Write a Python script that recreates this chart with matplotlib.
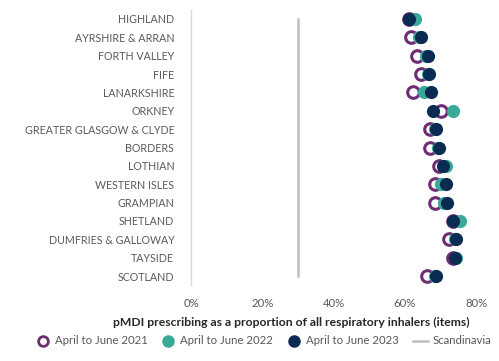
import matplotlib
matplotlib.use("Agg")
import matplotlib.pyplot as plt
from matplotlib.lines import Line2D

regions = ["HIGHLAND", "AYRSHIRE & ARRAN", "FORTH VALLEY", "FIFE", "LANARKSHIRE",
           "ORKNEY", "GREATER GLASGOW & CLYDE", "BORDERS", "LOTHIAN", "WESTERN ISLES",
           "GRAMPIAN", "SHETLAND", "DUMFRIES & GALLOWAY", "TAYSIDE", "SCOTLAND"]
y2021 = [61.0, 61.6, 63.3, 64.4, 62.2, 70.0, 67.0, 67.0, 69.6, 68.4, 68.4, 73.5, 72.4, 73.4, 66.3]
y2022 = [62.8, 64.0, 66.0, 66.5, 65.3, 73.6, 68.5, 69.3, 71.5, 70.0, 70.9, 75.4, 74.0, 74.3, 68.5]
y2023 = [61.2, 64.4, 66.5, 66.8, 67.3, 67.9, 68.7, 69.5, 70.8, 71.5, 71.9, 73.6, 74.3, 74.1, 68.7]
scandinavia = 30.0
xticks = [0, 20, 40, 60, 80]
xticklabels = ["0%", "20%", "40%", "60%", "80%"]

purple = "#6E2C72"
teal = "#3BA99A"
navy = "#0B2C52"
grey_txt = "#595959"

plt.rcParams['font.family'] = ['Lato', 'DejaVu Sans']

fig = plt.figure(figsize=(4.99, 3.61), dpi=100)
ax = fig.add_axes([191/499, 1-285.2/361, (476.3-191)/499, (285.2-9.8)/361])

ypos = list(range(len(regions)))
ax.plot([scandinavia, scandinavia], [ypos[0], ypos[-1]], color="#BFBFBF", lw=1.8, zorder=1)
ax.scatter(y2021, ypos, s=70, facecolor="white", edgecolor=purple, linewidth=2.2, zorder=3, clip_on=False)
ax.scatter(y2022, ypos, s=90, color=teal, linewidth=0, zorder=4, clip_on=False)
ax.scatter(y2023, ypos, s=90, color=navy, linewidth=0, zorder=5, clip_on=False)

ax.set_xlim(0, 80)
ax.set_ylim(len(regions) - 0.5, -0.5)
ax.set_yticks(ypos)
ax.set_yticklabels(regions, fontsize=7.7, color=grey_txt)
ax.set_xticks(xticks)
ax.set_xticklabels(xticklabels, fontsize=8.2, color=grey_txt)
ax.tick_params(axis='both', length=0)
ax.tick_params(axis='y', pad=12)
ax.tick_params(axis='x', pad=9)
for s in ["top", "right", "bottom"]:
    ax.spines[s].set_visible(False)
ax.spines["left"].set_color("#D9D9D9")
ax.spines["left"].set_linewidth(1)
ax.set_xlabel("pMDI prescribing as a proportion of all respiratory inhalers (items)",
              fontsize=8.7, fontweight="bold", color="#262626")
ax.xaxis.set_label_coords((291 - 191) / (476.3 - 191), -(322.7 - 285.2) / (285.2 - 9.8), transform=ax.transAxes)
ax.xaxis.label.set_va("center")

handles = [
    Line2D([], [], marker='o', ls='none', markersize=7, markerfacecolor='white', markeredgecolor=purple, markeredgewidth=2),
    Line2D([], [], marker='o', ls='none', markersize=8, color=teal),
    Line2D([], [], marker='o', ls='none', markersize=8, color=navy),
    Line2D([], [], color="#BFBFBF", lw=1.8),
]
labels = ["April to June 2021", "April to June 2022", "April to June 2023", "Scandinavia"]
leg = fig.legend(handles, labels, loc="center", bbox_to_anchor=(263/499, 1-341/361), ncol=4,
                 frameon=False, fontsize=8.2, handlelength=1.3, handletextpad=0.4, columnspacing=1.2)
for t in leg.get_texts():
    t.set_color(grey_txt)

fig.savefig("out.png", dpi=100)
